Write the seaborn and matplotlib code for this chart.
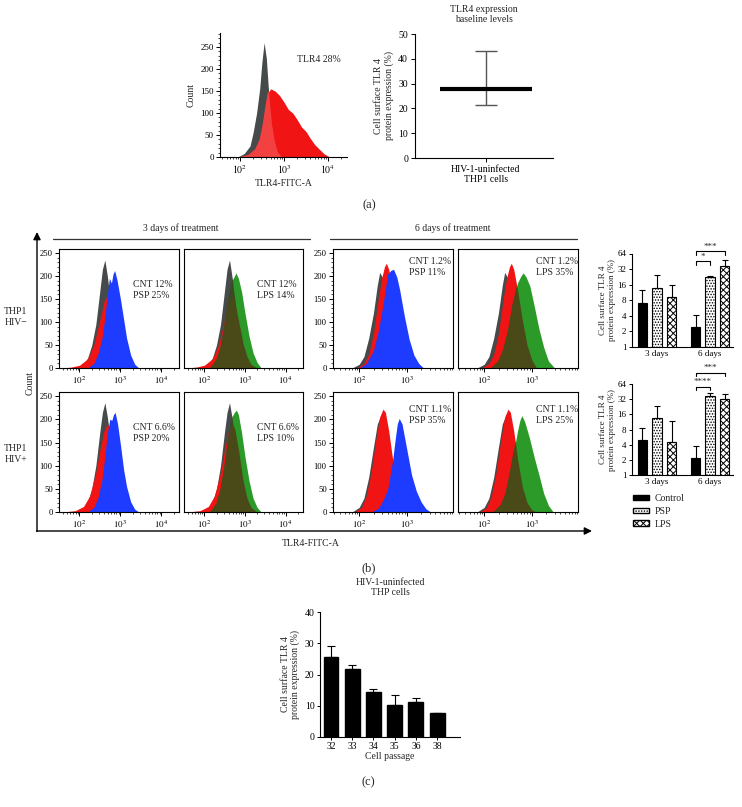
import numpy as np
import pandas as pd
import matplotlib
matplotlib.use("Agg")
import matplotlib.pyplot as plt
import seaborn as sns
from matplotlib.ticker import MultipleLocator, LogLocator, NullLocator, NullFormatter
from matplotlib.patches import Patch

# ---------------- datos ----------------
# (a) histograma basal: (log10 TLR4-FITC-A, count)
iso_a = [(1.95, 0), (2.1, 8), (2.23, 25), (2.3, 55), (2.38, 100), (2.45, 155), (2.5, 215),
         (2.55, 260), (2.6, 225), (2.64, 165), (2.68, 115), (2.72, 75), (2.78, 38), (2.85, 12), (2.95, 0)]
tlr4_a = [(2.0, 0), (2.2, 5), (2.35, 18), (2.45, 40), (2.52, 75), (2.58, 115), (2.63, 145), (2.7, 155),
          (2.8, 150), (2.9, 140), (3.0, 125), (3.1, 108), (3.2, 100), (3.3, 85), (3.4, 68), (3.5, 58),
          (3.6, 42), (3.7, 28), (3.8, 18), (3.9, 8), (4.0, 2), (4.05, 0)]

baseline_label = ["HIV-1-uninfected\nTHP1 cells"]
baseline_mid = [28]
baseline_low = [21.5]
baseline_high = [43]

# (b) histogramas, HIV- (fila 1)
iso_3d_neg = [(1.95, 0), (2.1, 8), (2.2, 22), (2.3, 50), (2.4, 95), (2.5, 170), (2.56, 215), (2.62, 235),
              (2.68, 200), (2.75, 150), (2.85, 80), (2.95, 30), (3.05, 8), (3.15, 0)]
cnt_3d_neg = [(1.55, 0), (1.8, 2), (2.0, 6), (2.2, 20), (2.35, 50), (2.5, 105), (2.6, 145), (2.68, 158),
              (2.76, 140), (2.85, 100), (2.95, 55), (3.05, 25), (3.15, 8), (3.3, 0)]
psp_3d_neg = [(2.2, 0), (2.35, 10), (2.45, 30), (2.55, 65), (2.62, 110), (2.68, 160), (2.73, 195),
              (2.78, 185), (2.82, 205), (2.86, 212), (2.92, 190), (3.0, 150), (3.08, 105), (3.15, 65),
              (3.25, 28), (3.35, 8), (3.45, 0)]
lps_3d_neg = [(2.15, 0), (2.3, 18), (2.4, 45), (2.5, 95), (2.6, 155), (2.68, 190), (2.74, 200), (2.78, 207),
              (2.84, 195), (2.92, 165), (3.0, 120), (3.1, 70), (3.2, 33), (3.3, 12), (3.4, 0)]
iso_6d_neg = [(1.85, 0), (2.0, 8), (2.1, 25), (2.2, 65), (2.3, 120), (2.38, 180), (2.43, 208), (2.5, 195),
              (2.58, 160), (2.68, 100), (2.8, 45), (2.9, 15), (3.0, 0)]
cnt_6d_neg = [(1.95, 0), (2.1, 10), (2.2, 30), (2.3, 75), (2.4, 150), (2.47, 195), (2.53, 220), (2.57, 228),
              (2.62, 215), (2.7, 170), (2.8, 105), (2.9, 50), (3.0, 18), (3.1, 0)]
psp_6d_neg = [(2.0, 0), (2.15, 10), (2.3, 38), (2.4, 80), (2.5, 138), (2.6, 205), (2.66, 212), (2.72, 215),
              (2.79, 198), (2.85, 170), (2.95, 112), (3.05, 62), (3.15, 28), (3.25, 10), (3.35, 0)]
lps_6d_neg = [(2.15, 0), (2.3, 15), (2.4, 40), (2.5, 80), (2.6, 140), (2.7, 185), (2.77, 200), (2.82, 207),
              (2.88, 198), (2.96, 178), (3.05, 135), (3.15, 85), (3.25, 45), (3.35, 15), (3.48, 0)]

# (b) histogramas, HIV+ (fila 2)
iso_3d_pos = [(1.95, 0), (2.1, 8), (2.2, 22), (2.3, 50), (2.4, 100), (2.5, 175), (2.56, 215), (2.62, 236),
              (2.68, 205), (2.75, 160), (2.85, 90), (2.95, 35), (3.05, 10), (3.15, 0)]
cnt_3d_pos = [(1.6, 0), (1.9, 3), (2.1, 12), (2.25, 35), (2.4, 85), (2.5, 135), (2.6, 175), (2.68, 190),
              (2.75, 180), (2.85, 130), (2.95, 70), (3.05, 30), (3.15, 10), (3.3, 0)]
psp_3d_pos = [(2.2, 0), (2.35, 10), (2.45, 30), (2.55, 70), (2.62, 120), (2.68, 170), (2.74, 200),
              (2.79, 198), (2.83, 210), (2.87, 215), (2.93, 190), (3.0, 145), (3.08, 90), (3.15, 55),
              (3.25, 22), (3.35, 6), (3.45, 0)]
lps_3d_pos = [(2.15, 0), (2.3, 18), (2.4, 48), (2.5, 100), (2.6, 165), (2.68, 205), (2.74, 215), (2.79, 220),
              (2.84, 210), (2.92, 170), (3.0, 120), (3.1, 68), (3.2, 30), (3.3, 10), (3.4, 0)]
iso_6d_pos = [(1.85, 0), (2.0, 10), (2.1, 30), (2.2, 75), (2.3, 140), (2.38, 190), (2.44, 205), (2.5, 190),
              (2.6, 140), (2.7, 80), (2.8, 35), (2.9, 10), (3.0, 0)]
cnt_6d_pos = [(1.9, 0), (2.05, 10), (2.15, 35), (2.25, 85), (2.35, 155), (2.43, 205), (2.5, 222), (2.55, 215),
              (2.62, 175), (2.7, 115), (2.8, 55), (2.9, 20), (3.0, 5), (3.1, 0)]
psp_6d_pos = [(2.25, 0), (2.4, 8), (2.5, 25), (2.6, 50), (2.7, 110), (2.76, 160), (2.8, 190), (2.84, 202),
              (2.9, 190), (3.0, 135), (3.1, 80), (3.2, 45), (3.3, 22), (3.4, 7), (3.5, 0)]
lps_6d_pos = [(2.2, 0), (2.35, 15), (2.45, 40), (2.55, 90), (2.62, 130), (2.7, 175), (2.75, 198), (2.79, 208),
              (2.85, 195), (2.95, 160), (3.05, 118), (3.15, 80), (3.25, 40), (3.35, 14), (3.45, 0)]

hist_labels = [["CNT 12%\nPSP 25%", "CNT 12%\nLPS 14%", "CNT 1.2%\nPSP 11%", "CNT 1.2%\nLPS 35%"],
               ["CNT 6.6%\nPSP 20%", "CNT 6.6%\nLPS 10%", "CNT 1.1%\nPSP 35%", "CNT 1.1%\nLPS 25%"]]

# (b) barras, % TLR4 de superficie
days = ["3 days", "6 days"]
treatments = ["Control", "PSP", "LPS"]
neg_control, neg_control_err = [7.0, 2.45], [5.6, 1.75]
neg_psp, neg_psp_err = [13.8, 22.5], [11.2, 0.7]
neg_lps, neg_lps_err = [9.1, 36.5], [6.7, 11.5]
pos_control, pos_control_err = [4.95, 2.14], [3.45, 1.66]
pos_psp, pos_psp_err = [13.3, 37.0], [10.5, 4.5]
pos_lps, pos_lps_err = [4.6, 32.0], [7.2, 8.5]
sig_neg = [("*", 0, 1, 45), ("***", 0, 2, 70)]
sig_pos = [("****", 0, 1, 57), ("***", 0, 2, 107)]

# (c) pases celulares
passages = ["32", "33", "34", "35", "36", "38"]
passage_mean = [25.6, 21.7, 14.4, 10.3, 11.3, 7.8]
passage_err = [3.5, 1.4, 0.9, 3.0, 1.2, 0.0]

# ---------------- estilo ----------------
sns.set_style("ticks")
plt.rcParams["font.family"] = ["Liberation Serif", "DejaVu Serif"]
plt.rcParams["mathtext.fontset"] = "stix"
plt.rcParams["hatch.linewidth"] = 0.7
plt.rcParams["axes.edgecolor"] = "black"
plt.rcParams["xtick.color"] = "black"
plt.rcParams["ytick.color"] = "black"
plt.rcParams["axes.linewidth"] = 0.8

GRAY, RED, BLUE, GREEN = "#464a4a", "#f01414", "#1e3cff", "#2b9a28"
MIX_RED = "#f34040"               # gris bajo rojo (a)
MIX_GRAY, MIX_CNT = "#3a4a22", "#4a4a18"   # gris / rojo bajo verde
W, H = 742, 807


def px_box(l, t, r, b):
    return [l / W, 1 - b / H, (r - l) / W, (b - t) / H]


def fill(ax, pts, color):
    lg, cnt = np.array(pts, dtype=float).T
    return ax.fill_between(10 ** lg, cnt, color=color, lw=0)


def draw_hist(ax, layers, mix, xlim, ymax, decades, xsize, ysize):
    # capas de abajo a arriba; mix = colores de solapamiento con la capa superior
    polys = [fill(ax, pts, col) for pts, col in layers]
    top = polys[-1]
    for (pts, _), col in zip(layers[:-1], mix):
        if col is None:
            continue
        m = fill(ax, pts, col)
        m.set_clip_path(top.get_paths()[0], ax.transData)
    ax.set_xscale("log")
    ax.set_xlim(10 ** xlim[0], 10 ** xlim[1])
    ax.set_ylim(0, ymax)
    ax.set_xticks([10.0 ** d for d in decades], ["$10^{%d}$" % d for d in decades])
    ax.xaxis.set_minor_locator(LogLocator(base=10, subs=np.arange(2, 10)))
    ax.xaxis.set_minor_formatter(NullFormatter())
    ax.yaxis.set_major_locator(MultipleLocator(50))
    ax.yaxis.set_minor_locator(MultipleLocator(10))
    ax.tick_params(which="major", length=3, width=0.7, pad=1.5)
    ax.tick_params(axis="x", labelsize=xsize)
    ax.tick_params(axis="y", labelsize=ysize)
    ax.tick_params(which="minor", length=1.5, width=0.5)


fig = plt.figure(figsize=(W / 100, H / 100), dpi=100)

# capa de anotaciones en píxeles
ov = fig.add_axes([0, 0, 1, 1])
ov.set_xlim(0, W)
ov.set_ylim(H, 0)
ov.axis("off")

# ---------------- (a) ----------------
ax = fig.add_axes(px_box(220, 33, 347, 157))
draw_hist(ax, [(iso_a, GRAY), (tlr4_a, RED)], [MIX_RED], (1.55, 4.43), 282, [2, 3, 4], 7, 6.5)
sns.despine(ax=ax)
ax.set_xlabel("TLR4-FITC-A", fontsize=7, labelpad=2)
ax.set_ylabel("Count", fontsize=7, labelpad=3)
ax.text(0.61, 0.79, "TLR4 28%", transform=ax.transAxes, fontsize=7, va="center")

ax = fig.add_axes(px_box(415, 34, 553, 158))
mid = np.array(baseline_mid)
ax.errorbar([0], mid, yerr=[mid - np.array(baseline_low), np.array(baseline_high) - mid],
            fmt="none", ecolor="#555555", elinewidth=1, capsize=8, capthick=1)
ax.hlines(mid, -1, 1, color="black", lw=3)
ax.set_xlim(-1.54, 1.46)
ax.set_ylim(0, 50)
ax.set_xticks([0], baseline_label)
ax.yaxis.set_major_locator(MultipleLocator(10))
ax.tick_params(length=3, width=0.7, labelsize=7, pad=2)
sns.despine(ax=ax)
ax.set_ylabel("Cell surface TLR 4\nprotein expression (%)", fontsize=7, labelpad=3)
ax.set_title("TLR4 expression\nbaseline levels", fontsize=7, pad=9, linespacing=1.1)

ov.text(369, 205, "(a)", fontsize=9, ha="center", va="center")

# ---------------- (b) histogramas ----------------
rows = [(249, 368), (392, 512)]
cols = [(59, 179), (184, 303), (333, 453), (458, 578)]
panels = [
    [(iso_3d_neg, cnt_3d_neg, psp_3d_neg, BLUE), (iso_3d_neg, cnt_3d_neg, lps_3d_neg, GREEN),
     (iso_6d_neg, cnt_6d_neg, psp_6d_neg, BLUE), (iso_6d_neg, cnt_6d_neg, lps_6d_neg, GREEN)],
    [(iso_3d_pos, cnt_3d_pos, psp_3d_pos, BLUE), (iso_3d_pos, cnt_3d_pos, lps_3d_pos, GREEN),
     (iso_6d_pos, cnt_6d_pos, psp_6d_pos, BLUE), (iso_6d_pos, cnt_6d_pos, lps_6d_pos, GREEN)],
]
text_pos = [[(0.62, 0.655), (0.613, 0.655), (0.633, 0.85), (0.647, 0.85)],
            [(0.62, 0.66), (0.613, 0.66), (0.633, 0.81), (0.647, 0.81)]]
for r, (top, bot) in enumerate(rows):
    for c, (left, right) in enumerate(cols):
        ax = fig.add_axes(px_box(left, top, right, bot))
        iso, cnt, trt, col = panels[r][c]
        mix = [MIX_GRAY, MIX_CNT] if col == GREEN else [None, None]
        if c < 2:
            draw_hist(ax, [(iso, GRAY), (cnt, RED), (trt, col)], mix, (1.5, 4.43), 259, [2, 3, 4], 6.5, 6.2)
        else:
            draw_hist(ax, [(iso, GRAY), (cnt, RED), (trt, col)], mix, (1.45, 3.97), 259, [2, 3], 6.5, 6.2)
        if c in (1, 3):
            ax.tick_params(axis="y", which="both", left=False, labelleft=False)
        tx, ty = text_pos[r][c]
        ax.text(tx, ty, hist_labels[r][c], transform=ax.transAxes, fontsize=7,
                va="center", ha="left", linespacing=1.25)

# marco con flechas
ov.annotate("", xy=(37, 232), xytext=(37, 531.5),
            arrowprops=dict(arrowstyle="-|>", lw=1.0, color="black", mutation_scale=11, shrinkA=0, shrinkB=0))
ov.annotate("", xy=(592, 531), xytext=(36.5, 531),
            arrowprops=dict(arrowstyle="-|>", lw=1.0, color="black", mutation_scale=11, shrinkA=0, shrinkB=0))
ov.plot([53, 310], [239, 239], color="#333333", lw=0.9)
ov.plot([330, 577], [239, 239], color="#333333", lw=0.9)
ov.text(181, 228, "3 days of treatment", fontsize=7, ha="center", va="center")
ov.text(453, 228, "6 days of treatment", fontsize=7, ha="center", va="center")
ov.text(16, 317, "THP1\nHIV\u2212", fontsize=7, ha="center", va="center", linespacing=1.3)
ov.text(16, 454, "THP1\nHIV+", fontsize=7, ha="center", va="center", linespacing=1.3)
ov.text(30, 383, "Count", fontsize=7, ha="center", va="center", rotation=90)
ov.text(311, 544, "TLR4-FITC-A", fontsize=7, ha="center", va="center")
ov.text(369, 568, "(b)", fontsize=9, ha="center", va="center")


# ---------------- (b) barras ----------------
def draw_bars(ax, means, errs, sig):
    df = pd.DataFrame({"day": days * 3,
                       "treatment": np.repeat(treatments, len(days)),
                       "value": np.concatenate(means)})
    sns.barplot(data=df, x="day", y="value", hue="treatment", order=days, hue_order=treatments,
                palette=["black", "white", "white"], edgecolor="black", linewidth=0.8,
                width=0.82, gap=0.36, errorbar=None, legend=False, ax=ax)
    for cont, hatch in zip(ax.containers, ["", "......", "xxxxx"]):
        for bar in cont:
            bar.set_hatch(hatch)
    centers = []
    for cont, err in zip(ax.containers, errs):
        xs = [b.get_x() + b.get_width() / 2 for b in cont]
        hs = [b.get_height() for b in cont]
        centers.append(xs)
        ax.errorbar(xs, hs, yerr=[np.zeros(len(err)), err], fmt="none", ecolor="black",
                    elinewidth=0.8, capsize=2.3, capthick=0.8)
    ax.set_yscale("log", base=2)
    ax.set_ylim(1, 64)
    ticks = [1, 2, 4, 8, 16, 32, 64]
    ax.set_yticks(ticks, [str(t) for t in ticks])
    ax.yaxis.set_minor_locator(NullLocator())
    ax.set_xlim(-0.47, 1.43)
    ax.set_xlabel("")
    ax.set_ylabel("Cell surface TLR 4\nprotein expression (%)", fontsize=6.5, labelpad=1, linespacing=1.1)
    ax.tick_params(axis="y", length=2.5, width=0.7, labelsize=6.5, pad=1.5)
    ax.tick_params(axis="x", length=0, labelsize=6.5, pad=2)
    sns.despine(ax=ax)
    for label, i, j, y in sig:
        x0, x1 = centers[i][1], centers[j][1]
        ax.plot([x0, x0, x1, x1], [y * 0.85, y, y, y * 0.85], color="black", lw=0.8, clip_on=False)
        ax.text((x0 + x1) / 2, y * 1.02, label, fontsize=6.5, ha="center", va="bottom")


ax = fig.add_axes(px_box(632, 253.5, 733, 347))
draw_bars(ax, [neg_control, neg_psp, neg_lps], [neg_control_err, neg_psp_err, neg_lps_err], sig_neg)
ax = fig.add_axes(px_box(632, 384, 733, 475))
draw_bars(ax, [pos_control, pos_psp, pos_lps], [pos_control_err, pos_psp_err, pos_lps_err], sig_pos)
handles = [Patch(facecolor="black", edgecolor="black"),
           Patch(facecolor="white", edgecolor="black", hatch="......"),
           Patch(facecolor="white", edgecolor="black", hatch="xxxxx")]
ax.legend(handles, treatments, loc="upper left", bbox_to_anchor=(633 / W, 1 - 494 / H),
          bbox_transform=fig.transFigure, frameon=False, fontsize=7, handlelength=1.6,
          handleheight=0.55, labelspacing=0.4, handletextpad=0.6, borderaxespad=0, borderpad=0)

# ---------------- (c) ----------------
ax = fig.add_axes(px_box(320, 612, 460, 737))
sns.barplot(x=passages, y=passage_mean, color="black", edgecolor="black", width=0.7,
            errorbar=None, ax=ax)
bars = ax.containers[0]
ax.errorbar([b.get_x() + b.get_width() / 2 for b in bars], [b.get_height() for b in bars],
            yerr=[np.zeros(len(passage_err)), passage_err], fmt="none", ecolor="black",
            elinewidth=0.8, capsize=3, capthick=0.8)
ax.set_xlim(-0.52, 6.08)
ax.set_ylim(0, 40)
ax.yaxis.set_major_locator(MultipleLocator(10))
ax.tick_params(axis="y", length=2.5, width=0.7, labelsize=7, pad=1.5)
ax.tick_params(axis="x", length=2, width=0.7, labelsize=7, pad=1.5)
sns.despine(ax=ax)
ax.set_xlabel("Cell passage", fontsize=7, labelpad=1)
ax.set_ylabel("Cell surface TLR 4\nprotein expression (%)", fontsize=7, labelpad=3, linespacing=1.1)
ax.set_title("HIV-1-uninfected\nTHP cells", fontsize=7, pad=12, linespacing=1.15)
ov.text(368, 782, "(c)", fontsize=9, ha="center", va="center")

fig.savefig("out.png", dpi=100)
